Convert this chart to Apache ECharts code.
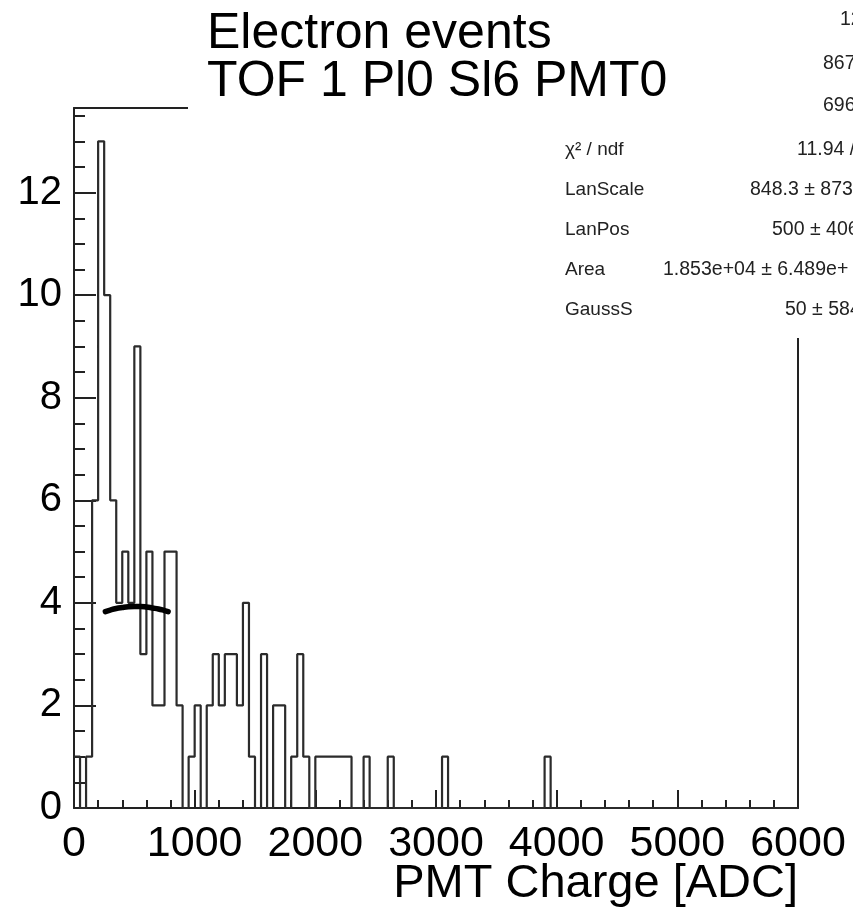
<!DOCTYPE html>
<html>
<head>
<meta charset="utf-8">
<script src="https://cdn.jsdelivr.net/npm/echarts@6/dist/echarts.min.js"></script>
<style>
  html, body { margin: 0; padding: 0; background: #fff; }
  #chart { width: 853px; height: 913px; }
</style>
</head>
<body>
<div id="chart"></div>
<script>
// Histogram binning: 120 bins of 50 ADC between 0 and 6000
const binWidth = 50;
const chargeMin = 0;
const chargeMax = 6000;

// Counts per bin, starting at 0 ADC (ten bins per row = 500 ADC)
const counts = [
  1, 0, 1, 6, 13, 10, 6, 4, 5, 4,   // 0 - 450
  9, 3, 5, 2, 2, 5, 5, 2, 0, 1,     // 500 - 950
  2, 0, 2, 3, 2, 3, 3, 2, 4, 1,     // 1000 - 1450
  0, 3, 0, 2, 2, 0, 1, 3, 1, 0,     // 1500 - 1950
  1, 1, 1, 1, 1, 1, 0, 0, 1, 0,     // 2000 - 2450
  0, 0, 1, 0, 0, 0, 0, 0, 0, 0,     // 2500 - 2950
  0, 1, 0, 0, 0, 0, 0, 0, 0, 0,     // 3000 - 3450
  0, 0, 0, 0, 0, 0, 0, 0, 1, 0,     // 3500 - 3950
  0, 0, 0, 0, 0, 0, 0, 0, 0, 0,     // 4000 - 4450
  0, 0, 0, 0, 0, 0, 0, 0, 0, 0,     // 4500 - 4950
  0, 0, 0, 0, 0, 0, 0, 0, 0, 0,     // 5000 - 5450
  0, 0, 0, 0, 0, 0, 0, 0, 0, 0      // 5500 - 5950
];

// Landau (x) Gauss fit curve over the fit range
const fitCharge = [260, 300, 350, 400, 450, 500, 550, 600, 650, 700, 750, 780];
const fitCounts = [3.83, 3.86, 3.89, 3.91, 3.925, 3.93, 3.93, 3.92, 3.90, 3.88, 3.85, 3.83];

// Axis ranges
const yMax = 13.65;
const xMajor = 1000;
const yMajor = 2;
const yMinor = 0.5;

// Titles
const titleLines = ['Electron events', 'TOF 1 Pl0 Sl6 PMT0'];
const xAxisTitle = 'PMT Charge [ADC]';

// Statistics box rows
const statsLabels = ['', '', '', 'χ² / ndf', 'LanScale', 'LanPos', 'Area', 'GaussS'];
const statsValues = ['128', '867', '696', '11.94 /', '848.3 ± 873', '500 ± 406', '1.853e+04 ± 6.489e+', '50 ± 584'];
const statsValueX = [840, 823, 823, 797, 750, 772, 663, 785];
const statsRowY = [20, 64, 106, 150, 190, 230, 270, 310];

const FONT = '"Liberation Sans", Arial, Helvetica, sans-serif';
const INK = '#222';

// Step outline points: left edge of each bin, closing at the upper edge
const histPoints = counts.map((c, i) => [chargeMin + i * binWidth, c]);
histPoints.push([chargeMax, 0]);
const fitPoints = fitCharge.map((x, i) => [x, fitCounts[i]]);

const chart = echarts.init(document.getElementById('chart'), null, { renderer: 'canvas' });

const graphics = [];
// stats box (white, drawn over the frame)
graphics.push({ type: 'rect', z: 100, shape: { x: 555, y: 0, width: 310, height: 338 }, style: { fill: '#fff' } });
statsLabels.forEach((t, i) => {
  if (!t) return;
  graphics.push({ type: 'text', z: 101, style: { text: t, x: 565, y: statsRowY[i], font: '19px ' + FONT, fill: INK, textAlign: 'left', textVerticalAlign: 'middle' } });
});
statsValues.forEach((t, i) => {
  graphics.push({ type: 'text', z: 101, style: { text: t, x: statsValueX[i], y: statsRowY[i], font: '19.5px ' + FONT, fill: INK, textAlign: 'left', textVerticalAlign: 'middle' } });
});
// title box on top of the stats box
graphics.push({ type: 'rect', z: 110, shape: { x: 188, y: 0, width: 520, height: 113 }, style: { fill: '#fff' } });
titleLines.forEach((t, i) => {
  graphics.push({ type: 'text', z: 111, style: { text: t, x: 207, y: 34 + i * 48, font: '50px ' + FONT, fill: '#000', textAlign: 'left', textVerticalAlign: 'middle' } });
});
// x axis title
graphics.push({ type: 'text', z: 111, style: { text: xAxisTitle, x: 798, y: 884, font: '47px ' + FONT, fill: '#000', textAlign: 'right', textVerticalAlign: 'middle' } });

const axisLine = { show: true, onZero: false, lineStyle: { color: INK, width: 2 } };

chart.setOption({
  animation: false,
  backgroundColor: '#fff',
  grid: { left: 74, right: 55, top: 108, bottom: 105, containLabel: false },
  xAxis: [
    {
      type: 'value', min: chargeMin, max: chargeMax, interval: xMajor, position: 'bottom',
      axisLine: axisLine,
      axisTick: { show: true, inside: true, length: 18, lineStyle: { color: INK, width: 2 } },
      minorTick: { show: true, splitNumber: 5, length: 8, lineStyle: { color: INK, width: 2 } },
      splitLine: { show: false },
      axisLabel: { color: '#000', fontSize: 43, fontFamily: FONT, margin: 15, formatter: v => String(v) }
    },
    {
      type: 'value', min: chargeMin, max: chargeMax, position: 'top',
      axisLine: axisLine, axisTick: { show: false }, axisLabel: { show: false }, splitLine: { show: false }
    }
  ],
  yAxis: [
    {
      type: 'value', min: 0, max: yMax, interval: yMajor, position: 'left',
      axisLine: axisLine,
      axisTick: { show: true, inside: true, length: 22, lineStyle: { color: INK, width: 2 } },
      splitLine: { show: false },
      axisLabel: { color: '#000', fontSize: 40, fontFamily: FONT, margin: 12, showMaxLabel: false,
        formatter: v => (Math.abs(v / yMajor - Math.round(v / yMajor)) < 1e-6 ? String(v) : '') }
    },
    {
      type: 'value', min: 0, max: yMax, interval: yMinor, position: 'left',
      axisLine: { show: false },
      axisTick: { show: true, inside: true, length: 11, lineStyle: { color: INK, width: 2 } },
      axisLabel: { show: false }, splitLine: { show: false }
    },
    {
      type: 'value', min: 0, max: yMax, position: 'right',
      axisLine: axisLine, axisTick: { show: false }, axisLabel: { show: false }, splitLine: { show: false }
    }
  ],
  series: [
    {
      name: 'PMT charge', type: 'line', step: 'end', xAxisIndex: 0, yAxisIndex: 0,
      data: histPoints, symbol: 'none', z: 3,
      lineStyle: { color: '#2b2b2b', width: 2.2 }
    },
    {
      name: 'fit', type: 'line', smooth: true, xAxisIndex: 0, yAxisIndex: 0,
      data: fitPoints, symbol: 'none', z: 4,
      lineStyle: { color: '#000', width: 5.5, cap: 'round' }
    }
  ],
  graphic: graphics
});
</script>
</body>
</html>
